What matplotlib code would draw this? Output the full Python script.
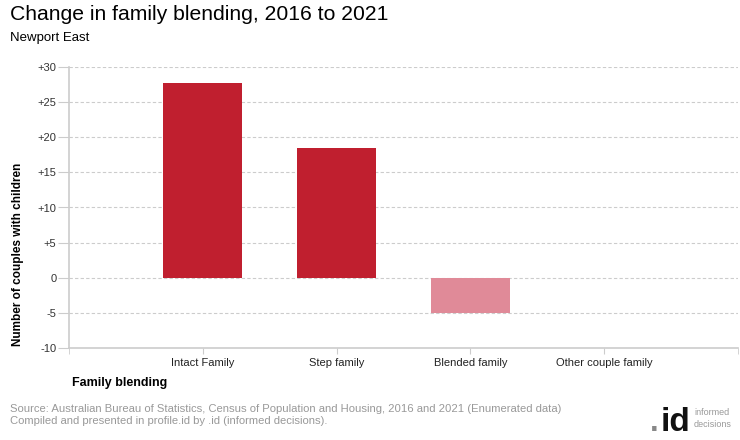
import matplotlib
matplotlib.use("Agg")
import matplotlib.pyplot as plt
from matplotlib.ticker import FixedLocator

plt.rcParams['font.family'] = ['Liberation Sans', 'DejaVu Sans']

categories = ["Intact Family", "Step family", "Blended family", "Other couple family"]
changes = [27.7, 18.5, -5, 0]
bar_colors = ["#C01F2F", "#C01F2F", "#E08A98", "#C01F2F"]
yticks = [-10, -5, 0, 5, 10, 15, 20, 25, 30]
ytick_labels = ["-10", "-5", "0", "+5", "+10", "+15", "+20", "+25", "+30"]

W, H = 740, 440
fig = plt.figure(figsize=(W / 100, H / 100), dpi=100)
left, right, top, bottom = 69, 738, 67, 348
ax = fig.add_axes([left / W, 1 - bottom / H, (right - left) / W, (bottom - top) / H])

x = list(range(len(categories)))
ax.bar(x, changes, width=0.59, color=bar_colors, zorder=3)

ax.set_xlim(-1, len(categories))
ax.set_ylim(-10, 30)
ax.set_yticks(yticks)
ax.set_yticklabels(ytick_labels)
ax.set_xticks(x)
ax.set_xticklabels(categories)
ax.xaxis.set_minor_locator(FixedLocator([-1, len(categories)]))

ax.grid(axis='y', color='#cccccc', linestyle=(0, (3, 2)), linewidth=0.8, zorder=0)
for s in ['top', 'right']:
    ax.spines[s].set_visible(False)
for s in ['left', 'bottom']:
    ax.spines[s].set_color('#cccccc')
    ax.spines[s].set_linewidth(1.2)

ax.tick_params(axis='y', length=8, color='#cccccc', labelsize=8, labelcolor='#333333', pad=1)
ax.tick_params(axis='x', which='both', length=4, color='#cccccc', labelsize=8, labelcolor='#222222', pad=3)

fig.text(10 / W, 1 - 14 / H, "Change in family blending, 2016 to 2021", fontsize=15.2,
         va='center', ha='left', color='#000000')
fig.text(10 / W, 1 - 38 / H, "Newport East", fontsize=9.5, va='center', ha='left', color='#000000')

fig.text(18 / W, 1 - 254 / H, "Number of couples with children", rotation=90, fontsize=8.5,
         fontweight='bold', va='center', ha='center')
fig.text(72 / W, 1 - 383 / H, "Family blending", fontsize=9, fontweight='bold',
         va='center', ha='left')

fig.text(10 / W, 1 - 409 / H,
         "Source: Australian Bureau of Statistics, Census of Population and Housing, 2016 and 2021 (Enumerated data)",
         fontsize=8.1, color='#999999', va='center', ha='left')
fig.text(10 / W, 1 - 421 / H,
         "Compiled and presented in profile.id by .id (informed decisions).",
         fontsize=8.1, color='#999999', va='center', ha='left')

fig.text(650 / W, 1 - 431 / H, ".", fontsize=22, fontweight='bold', color='#888888',
         va='baseline', ha='left')
fig.text(661 / W, 1 - 431 / H, "id", fontsize=24, fontweight='bold', color='#111111',
         va='baseline', ha='left')
fig.text(694 / W, 1 - 412 / H, "informed", fontsize=6.5, color='#999999', va='center', ha='left')
fig.text(694 / W, 1 - 424 / H, "decisions", fontsize=6.5, color='#999999', va='center', ha='left')

fig.savefig("out.png", dpi=100)
